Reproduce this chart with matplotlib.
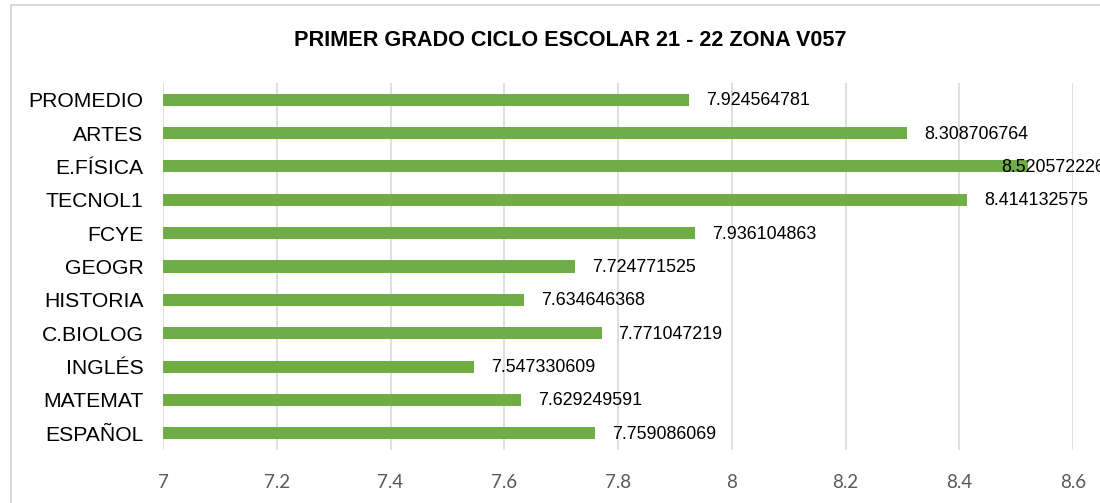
import matplotlib
matplotlib.use("Agg")
import matplotlib.pyplot as plt
from matplotlib.patches import Rectangle

categories = ["ESPAÑOL", "MATEMAT", "INGLÉS", "C.BIOLOG", "HISTORIA", "GEOGR",
              "FCYE", "TECNOL1", "E.FÍSICA", "ARTES", "PROMEDIO"]
values = [7.759086069, 7.629249591, 7.547330609, 7.771047219, 7.634646368,
          7.724771525, 7.936104863, 8.414132575, 8.520572226, 8.308706764,
          7.924564781]
value_labels = ["7.759086069", "7.629249591", "7.547330609", "7.771047219",
                "7.634646368", "7.724771525", "7.936104863", "8.414132575",
                "8.520572226", "8.308706764", "7.924564781"]
xticks = [7, 7.2, 7.4, 7.6, 7.8, 8, 8.2, 8.4, 8.6]
xtick_labels = ["7", "7.2", "7.4", "7.6", "7.8", "8", "8.2", "8.4", "8.6"]
title = "PRIMER GRADO CICLO ESCOLAR 21 - 22 ZONA V057"

W, H = 1100, 503
fig = plt.figure(figsize=(W / 100, H / 100), dpi=100)
fig.patch.set_facecolor("white")

# chart border
fig.patches.append(Rectangle((10.5 / W, -0.1), 1.2, 1 - 5.5 / H + 0.1,
                             transform=fig.transFigure, fill=False,
                             edgecolor="#D9D9D9", linewidth=1.5))

ax = fig.add_axes([163 / W, 1 - 450 / H, (1073 - 163) / W, (450 - 83) / H])
y = list(range(len(categories)))
ax.barh(y, [v - 7 for v in values], left=7, height=0.36, color="#70AD47", zorder=3)
ax.set_xlim(7, 8.6)
ax.set_ylim(-0.5, len(categories) - 0.5)
ax.set_xticks(xticks)
ax.set_xticklabels(xtick_labels, fontsize=13.5, color="#595959", family="Lato")
ax.set_yticks(y)
ax.set_yticklabels(categories, fontsize=15.2, color="black", family="Liberation Sans")
ax.tick_params(axis="both", length=0)
ax.tick_params(axis="y", pad=14)
ax.tick_params(axis="x", pad=17)
ax.xaxis.grid(True, color="#D9D9D9", linewidth=1.2, zorder=0)
ax.set_axisbelow(True)
for s in ax.spines.values():
    s.set_visible(False)

for yi, v, lab in zip(y, values, value_labels):
    off = -27 if v > 8.5 else 17
    ax.annotate(lab, xy=(v, yi), xytext=(off, -1), textcoords="offset pixels",
                ha="left", va="center", fontsize=12.9, family="Liberation Sans",
                color="black", annotation_clip=False, zorder=4)

fig.text(570 / W, 1 - 41 / H, title, ha="center", va="center", fontsize=15.6,
         fontweight="bold", family="Liberation Sans")

fig.savefig("out.png", dpi=100)
